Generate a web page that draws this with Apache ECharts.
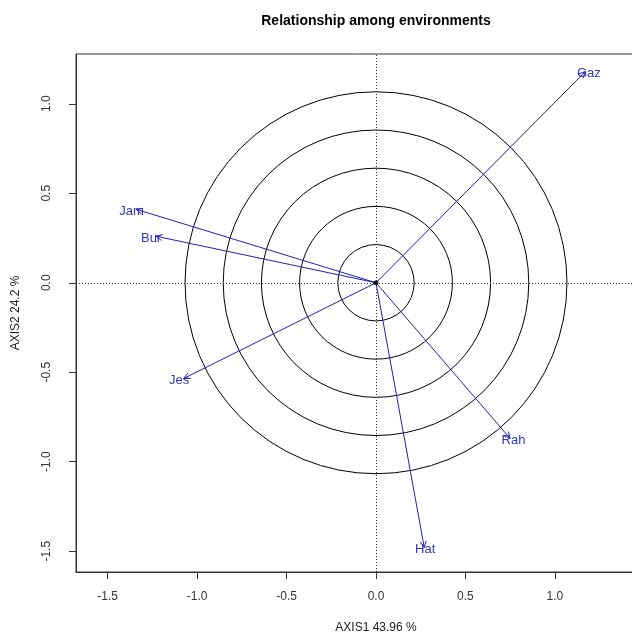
<!DOCTYPE html>
<html>
<head>
<meta charset="utf-8">
<script src="https://cdn.jsdelivr.net/npm/echarts@6/dist/echarts.min.js"></script>
<style>
  html, body { margin: 0; padding: 0; background: #fff; }
  #chart { width: 632px; height: 637px; }
</style>
</head>
<body>
<div id="chart"></div>
<script>
// Environment vectors on the first two axes
const envNames = ['Gaz', 'Jam', 'Bur', 'Jes', 'Rah', 'Hat'];
const axis1Scores = [1.17, -1.34, -1.23, -1.075, 0.75, 0.27];
const axis2Scores = [1.18, 0.41, 0.26, -0.535, -0.87, -1.48];

// Concentric reference rings (radius in axis units)
const ringRadii = [0.2135, 0.427, 0.6405, 0.854, 1.0675];

// Tick positions
const xTicks = [-1.5, -1.0, -0.5, 0.0, 0.5, 1.0];
const yTicks = [-1.5, -1.0, -0.5, 0.0, 0.5, 1.0];

const axisTitleX = 'AXIS1 43.96 %';
const axisTitleY = 'AXIS2 24.2 %';
const chartTitle = 'Relationship among environments';

const FONT = '"Liberation Sans", Arial, Helvetica, sans-serif';
const VEC_COLOR = '#2020b0';
const LABEL_COLOR = '#3434c4';

const chart = echarts.init(document.getElementById('chart'), null, { renderer: 'canvas' });

const vectorData = envNames.map((n, i) => [axis1Scores[i], axis2Scores[i], n]);
const ringData = ringRadii.map(r => [r, 0]);

function renderRing(params, api) {
  const c = api.coord([0, 0]);
  const r = api.size([api.value(0), 0])[0];
  return {
    type: 'circle',
    shape: { cx: c[0], cy: c[1], r: r },
    style: { fill: 'none', stroke: '#000', lineWidth: 1 }
  };
}

// Arrow from the origin with an open V head and the environment name at its tip
function renderVector(params, api) {
  const x = api.value(0), y = api.value(1);
  const name = envNames[params.dataIndex];
  const p0 = api.coord([0, 0]);
  const p1 = api.coord([x, y]);
  const ang = Math.atan2(p1[1] - p0[1], p1[0] - p0[0]);
  const headLen = 7, headAng = Math.PI / 7;
  const h1 = [p1[0] - headLen * Math.cos(ang - headAng), p1[1] - headLen * Math.sin(ang - headAng)];
  const h2 = [p1[0] - headLen * Math.cos(ang + headAng), p1[1] - headLen * Math.sin(ang + headAng)];
  const dx = 5 * Math.cos(ang);
  return {
    type: 'group',
    children: [
      { type: 'line', shape: { x1: p0[0], y1: p0[1], x2: p1[0], y2: p1[1] },
        style: { stroke: VEC_COLOR, lineWidth: 1 } },
      { type: 'polyline', shape: { points: [h1, p1, h2] },
        style: { stroke: VEC_COLOR, lineWidth: 1, fill: 'none' } },
      { type: 'text', x: p1[0] + dx, y: p1[1] + 2,
        style: { text: name, fill: LABEL_COLOR, font: '13px ' + FONT,
                 align: 'center', verticalAlign: 'middle' } }
    ]
  };
}

const option = {
  animation: false,
  backgroundColor: '#fff',
  grid: {
    left: 76, top: 54, width: 600, height: 518,
    outerBoundsMode: 'none', containLabel: false,
    show: true, borderColor: '#333', borderWidth: 1, backgroundColor: 'transparent'
  },
  graphic: [{
    type: 'text', x: 376, y: 21,
    style: { text: chartTitle, font: 'bold 14px ' + FONT, fill: '#000',
             align: 'center', verticalAlign: 'middle' }
  }],
  xAxis: {
    type: 'value', min: -1.677, max: 1.677,
    name: axisTitleX, nameLocation: 'middle', nameGap: 50,
    nameTextStyle: { fontFamily: FONT, fontSize: 12, color: '#222' },
    axisLine: { show: true, onZero: false, lineStyle: { color: '#333', width: 1 } },
    axisTick: { show: true, length: 7, customValues: xTicks, lineStyle: { color: '#333' } },
    axisLabel: { show: true, customValues: xTicks, margin: 19,
                 fontFamily: FONT, fontSize: 12, color: '#333',
                 formatter: v => v.toFixed(1) },
    splitLine: { show: false }
  },
  yAxis: {
    type: 'value', min: -1.616, max: 1.278,
    name: axisTitleY, nameLocation: 'middle', nameGap: 54,
    nameTextStyle: { fontFamily: FONT, fontSize: 12, color: '#222' },
    axisLine: { show: true, onZero: false, lineStyle: { color: '#333', width: 1 } },
    axisTick: { show: true, length: 7, customValues: yTicks, lineStyle: { color: '#333' } },
    axisLabel: { show: true, customValues: yTicks, margin: 23, rotate: 90,
                 fontFamily: FONT, fontSize: 12, color: '#333',
                 formatter: v => v.toFixed(1) },
    splitLine: { show: false }
  },
  series: [
    {
      type: 'custom', name: 'rings', renderItem: renderRing,
      data: ringData, encode: { x: 0, y: 1 }, silent: true, z: 2
    },
    {
      type: 'scatter', name: 'origin', data: [[0, 0]],
      symbol: 'circle', symbolSize: 5, itemStyle: { color: '#000' }, z: 5,
      silent: true,
      markLine: {
        silent: true, symbol: ['none', 'none'], label: { show: false },
        lineStyle: { color: '#333', width: 1, type: [1, 2] },
        data: [{ xAxis: 0 }, { yAxis: 0 }]
      }
    },
    {
      type: 'custom', name: 'environments', renderItem: renderVector,
      data: vectorData, encode: { x: 0, y: 1 }, silent: true, z: 4
    }
  ]
};

chart.setOption(option);
</script>
</body>
</html>
